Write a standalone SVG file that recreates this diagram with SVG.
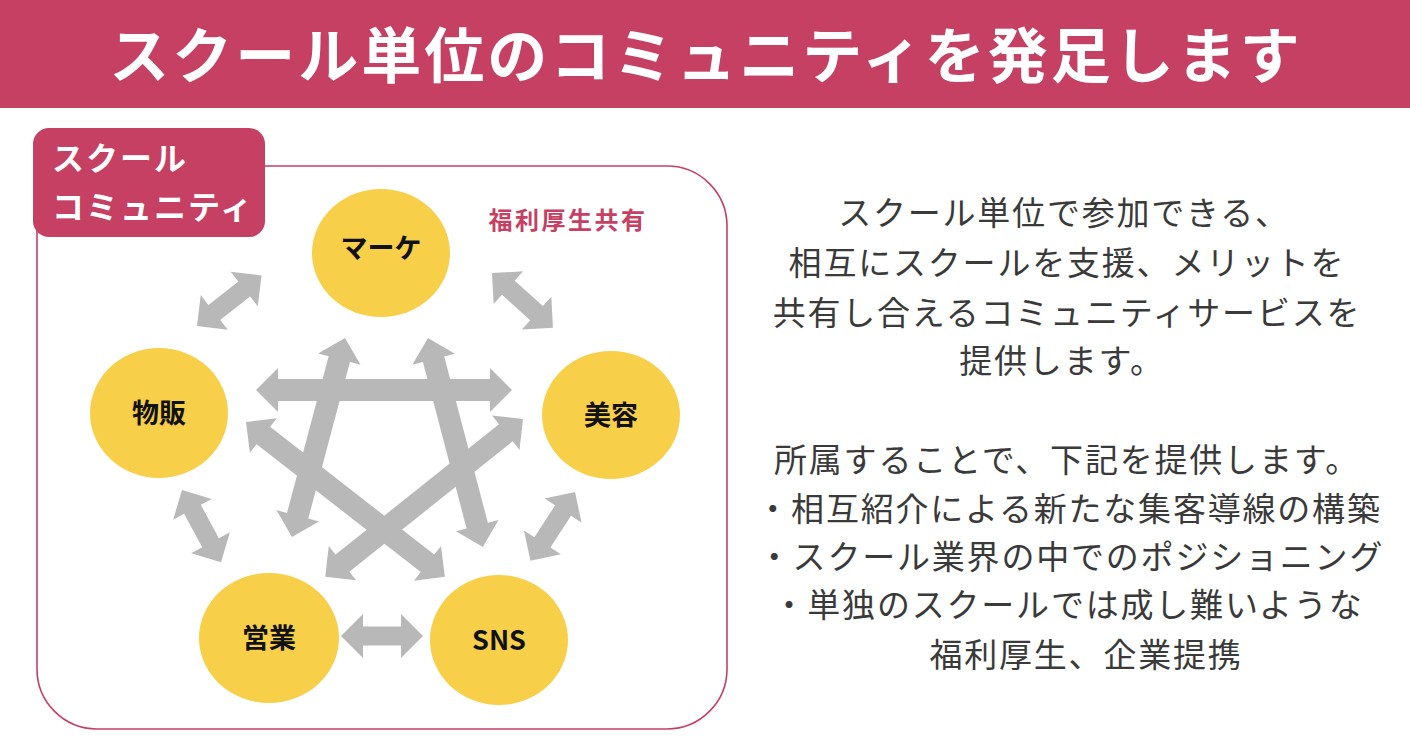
<svg xmlns="http://www.w3.org/2000/svg" width="1410" height="748" viewBox="0 0 1410 748">
<style>
.jp{font-family:"Noto Sans CJK JP","Noto Sans",sans-serif}
.title{font-size:60px;font-weight:700;fill:#ffffff;letter-spacing:3px}
.lbl{font-size:32px;font-weight:700;fill:#ffffff;letter-spacing:2px}
.node{fill:#f7cf48}
.nt{font-size:27px;font-weight:700;fill:#111111;text-anchor:middle}
.body{font-size:33px;font-weight:400;fill:#3a3a3a;text-anchor:middle;letter-spacing:1.8px}
.arr{fill:#b8b8b8}
</style>
<defs>
<polygon id="shortArrow" points="0,0 22,-22 22,-9.5 60,-9.5 60,-22 82,0 60,22 60,9.5 22,9.5 22,22"/>
</defs>
<rect x="0" y="0" width="1410" height="108" fill="#c54063"/>
<text class="jp title" x="706" y="78" text-anchor="middle">スクール単位のコミュニティを発足します</text>

<g id="community-frame">
<rect x="37" y="166" width="690" height="563" rx="60" ry="60" fill="#ffffff" stroke="#c54063" stroke-width="1.6"/>
</g>
<g id="community-label">
<rect x="33" y="128" width="232" height="109" rx="16" ry="16" fill="#c54063"/>
<text class="jp lbl" x="52" y="170">スクール</text>
<text class="jp lbl" x="52" y="219">コミュニティ</text>
</g>
<text id="welfare-label" class="jp" x="568" y="229" text-anchor="middle" font-size="24" font-weight="700" fill="#c54063" letter-spacing="2.5">福利厚生共有</text>

<g id="connectors" class="arr">
<use href="#shortArrow" transform="translate(197,326) rotate(-38.1)"/>
<use href="#shortArrow" transform="translate(492,273) rotate(42)"/>
<use href="#shortArrow" transform="translate(182,490) rotate(61.6)"/>
<use href="#shortArrow" transform="translate(575,492) rotate(122.9)"/>
<use href="#shortArrow" transform="translate(341,636)"/>
<polygon points="0,0 22,-22 22,-11 234,-11 234,-22 256,0 234,22 234,11 22,11 22,22" transform="translate(256,390)"/>
<polygon points="0,0 22,-22 22,-11 184,-11 184,-22 206,0 184,22 184,11 22,11 22,22" transform="translate(292,537) rotate(-75.1)"/>
<polygon points="0,0 22,-22 22,-11 194,-11 194,-22 216,0 194,22 194,11 22,11 22,22" transform="translate(428,338) rotate(75.3)"/>
<polygon points="0,0 22,-22 22,-11 230,-11 230,-22 252,0 230,22 230,11 22,11 22,22" transform="translate(246,422) rotate(37.9)"/>
<polygon points="0,0 22,-22 22,-11 231,-11 231,-22 253,0 231,22 231,11 22,11 22,22" transform="translate(523,419) rotate(141.4)"/>
</g>

<g id="node-marketing">
<ellipse class="node" cx="381" cy="253" rx="69" ry="64"/>
<text class="jp nt" x="381" y="258" font-size="18">マーケ</text>
</g>
<g id="node-sales-goods">
<ellipse class="node" cx="159" cy="413" rx="69" ry="65"/>
<text class="jp nt" x="159" y="423">物販</text>
</g>
<g id="node-beauty">
<ellipse class="node" cx="611" cy="415" rx="69" ry="64"/>
<text class="jp nt" x="611" y="425">美容</text>
</g>
<g id="node-sales">
<ellipse class="node" cx="269" cy="638" rx="70" ry="65"/>
<text class="jp nt" x="269" y="648">営業</text>
</g>
<g id="node-sns">
<ellipse class="node" cx="499" cy="640" rx="69" ry="65"/>
<text class="jp nt" x="499" y="650" font-family="Roboto,sans-serif">SNS</text>
</g>

<g id="description" class="jp body">
<text x="1064" y="225">スクール単位で参加できる、</text>
<text x="1067" y="275">相互にスクールを支援、メリットを</text>
<text x="1067" y="325">共有し合えるコミュニティサービスを</text>
<text x="1062" y="373">提供します。</text>
<text x="1067" y="472">所属することで、下記を提供します。</text>
<text x="1069" y="521">・相互紹介による新たな集客導線の構築</text>
<text x="1071" y="569">・スクール業界の中でのポジショニング</text>
<text x="1068" y="617">・単独のスクールでは成し難いような</text>
<text x="1086" y="667">福利厚生、企業提携</text>
</g>
</svg>
